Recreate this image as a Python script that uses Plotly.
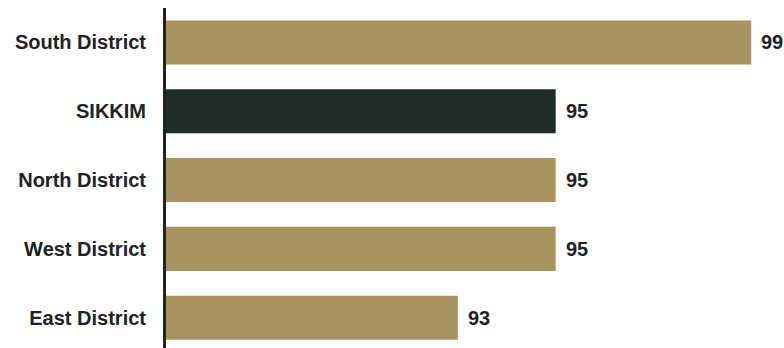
import plotly.graph_objects as go

districts = ["South District", "SIKKIM", "North District", "West District", "East District"]
values = [99, 95, 95, 95, 93]
bar_colors = ["#A89461", "#1F2D2A", "#A89461", "#A89461", "#A89461"]

FONT = "Liberation Sans, Arial, sans-serif"

fig = go.Figure(
    go.Bar(
        x=values,
        y=districts,
        orientation="h",
        marker=dict(color=bar_colors, line=dict(width=0)),
        width=0.64,
        hoverinfo="skip",
    )
)

for d, v in zip(districts, values):
    fig.add_annotation(
        x=v, y=d, text=f"<b>{v}</b>", showarrow=False,
        xanchor="left", xshift=8,
        font=dict(family=FONT, size=20, color="#222222"),
    )

fig.update_layout(
    width=784,
    height=348,
    margin=dict(l=166, r=0, t=8, b=0),
    paper_bgcolor="white",
    plot_bgcolor="white",
    showlegend=False,
    font=dict(family=FONT, size=20, color="#222222"),
)
fig.update_xaxes(range=[87.03, 99.67], visible=False, fixedrange=True)
fig.update_yaxes(
    range=[4.44, -0.5],
    showline=True, linecolor="#222222", linewidth=3,
    showgrid=False, ticks="", ticklabelstandoff=13,
    tickfont=dict(family=FONT, size=20, color="#222222", weight="bold"),
)

fig.write_html("out.html")
